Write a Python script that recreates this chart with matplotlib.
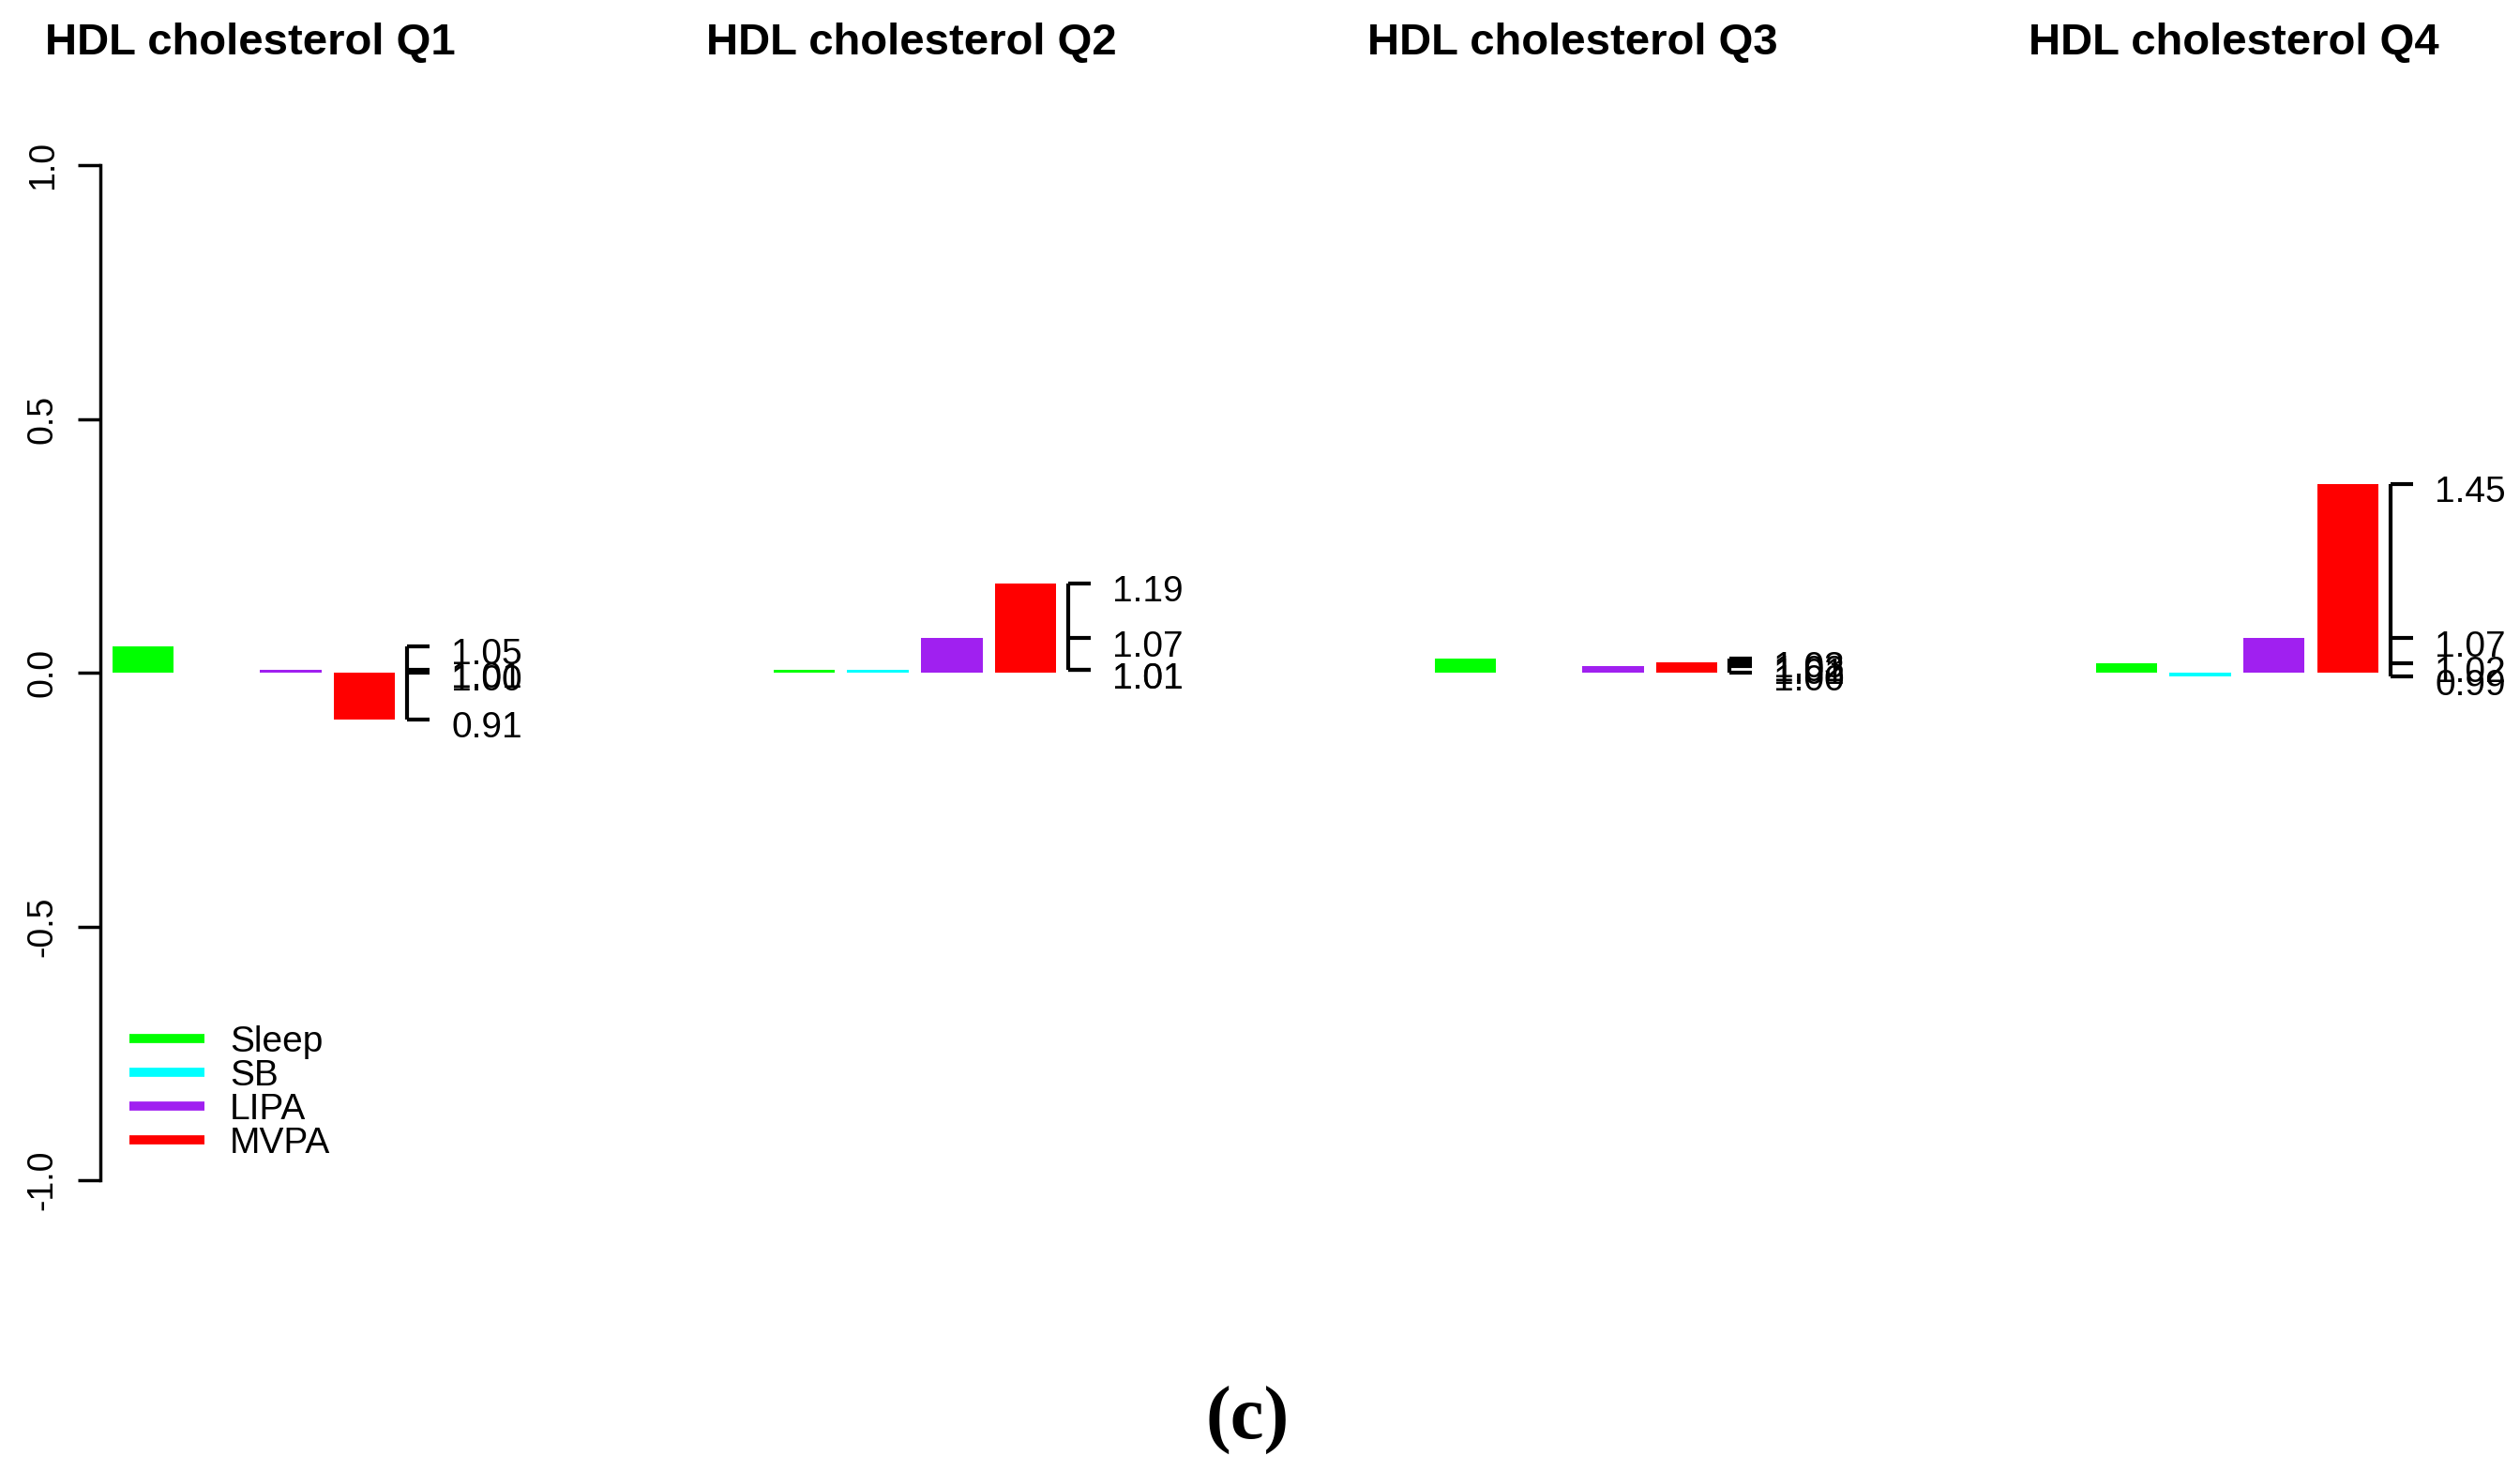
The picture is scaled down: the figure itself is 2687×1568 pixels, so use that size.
import numpy as np
import matplotlib
matplotlib.use("Agg")
import matplotlib.pyplot as plt
from matplotlib.lines import Line2D

plt.rcParams['font.family'] = ['Liberation Sans', 'DejaVu Sans']

# ---- data (log odds ratios) ----
panel_titles = ["HDL cholesterol Q1", "HDL cholesterol Q2",
                "HDL cholesterol Q3", "HDL cholesterol Q4"]
behaviours = ["Sleep", "SB", "LIPA", "MVPA"]
colors = ["#00FF00", "#00FFFF", "#A020F0", "#FF0000"]
q1_values = [0.052, 0.000, 0.006, -0.092]
q2_values = [0.005, 0.005, 0.068, 0.176]
q3_values = [0.027, 0.000, 0.013, 0.020]
q4_values = [0.018, -0.008, 0.068, 0.372]
panel_values = [q1_values, q2_values, q3_values, q4_values]
y_ticks = [-1.0, -0.5, 0.0, 0.5, 1.0]
y_tick_labels = ["-1.0", "-0.5", "0.0", "0.5", "1.0"]

W, H = 2687, 1568
fig = plt.figure(figsize=(W / 100, H / 100), dpi=100)

unit = 65.5          # pixels per bar unit
y_top, y_bot = 176, 1258
bar_pos = 0.7 + 1.2 * np.arange(4)

for i, (title, vals) in enumerate(zip(panel_titles, panel_values)):
    x0 = 106.7 + 705 * i
    ax = fig.add_axes([x0 / W, (H - y_bot) / H, 4.9 * unit / W, (y_bot - y_top) / H])
    ax.set_xlim(0, 4.9)
    ax.set_ylim(-1, 1)
    ax.bar(bar_pos, vals, width=1.0, color=colors, edgecolor='none')
    for s in ["top", "right", "bottom"]:
        ax.spines[s].set_visible(False)
    ax.set_xticks([])
    if i == 0:
        ax.spines["left"].set_linewidth(2.5)
        ax.set_yticks(y_ticks)
        ax.set_yticklabels(y_tick_labels, rotation=90, va='center', fontsize=27)
        ax.tick_params(axis='y', length=17, width=2.5, pad=14)
        handles = [Line2D([], [], color=c, lw=7, solid_capstyle='butt') for c in colors]
        ax.legend(handles, behaviours, loc='upper left', frameon=False,
                  bbox_to_anchor=(138 / W, 1 - 1093 / H), bbox_transform=fig.transFigure,
                  fontsize=28, handlelength=2.05, handletextpad=0.7,
                  labelspacing=0.0, borderpad=0, borderaxespad=0)
    else:
        ax.spines["left"].set_visible(False)
        ax.set_yticks([])
    ax.set_title(title, fontsize=34, fontweight='bold', pad=85)

    # bracket with odds-ratio labels
    bx = 5.0
    ax.vlines(bx, min(vals), max(vals), color='black', lw=3, clip_on=False)
    ax.hlines(vals, bx, bx + 0.37, color='black', lw=3, clip_on=False)
    for v in vals:
        ax.annotate(f"{np.exp(v):.2f}", xy=(bx, v), xytext=(34, -14),
                    textcoords='offset points', ha='left', va='baseline',
                    fontsize=28, annotation_clip=False)

fig.text(1330 / W, 1 - 1514 / H, "(c)", ha='center', va='center', fontsize=58,
         family=['Liberation Serif', 'DejaVu Serif'], fontweight='bold')

fig.savefig("out.png", dpi=100)
